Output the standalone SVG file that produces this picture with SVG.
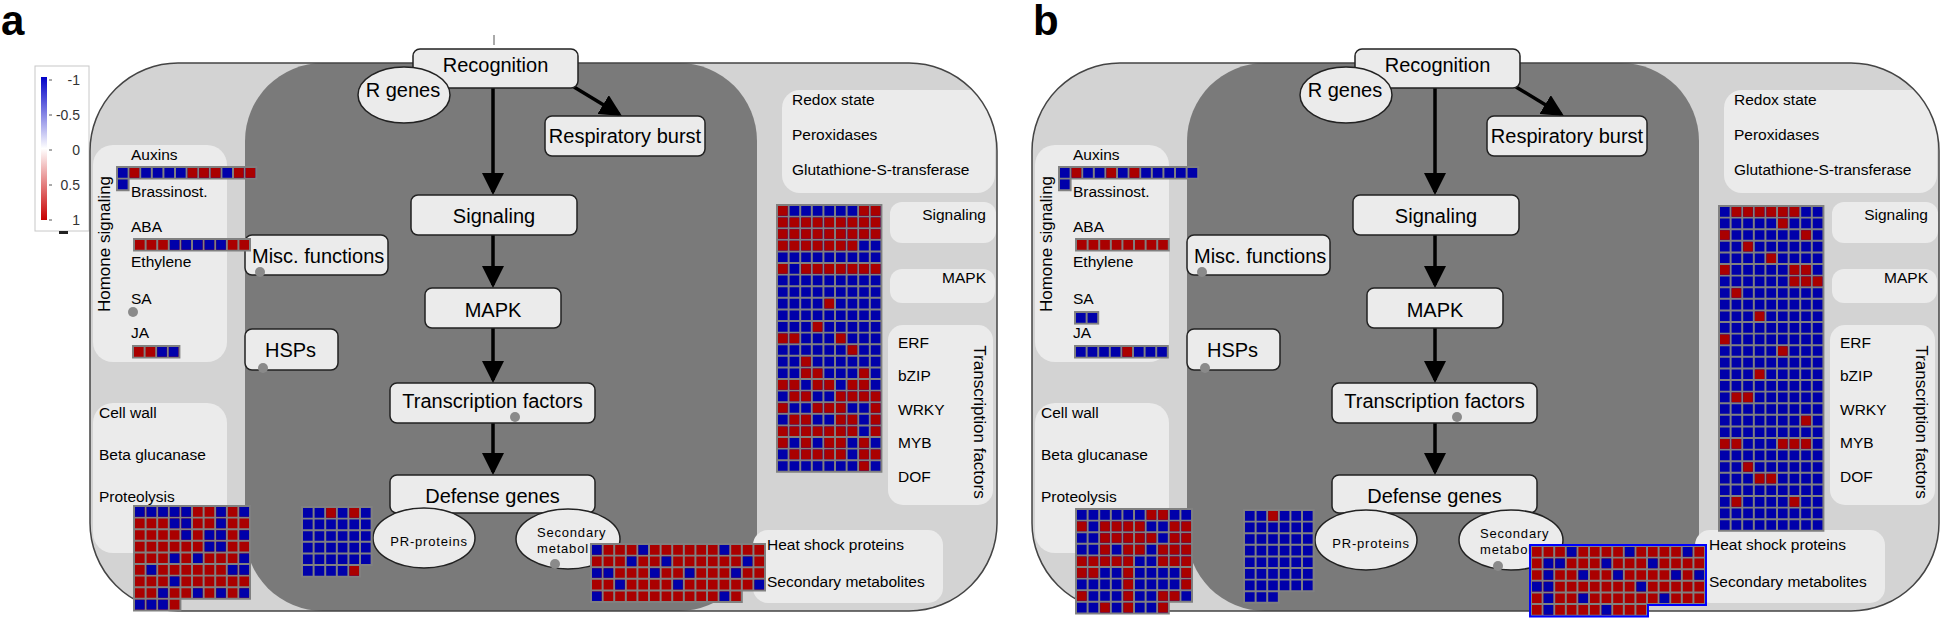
<svg xmlns="http://www.w3.org/2000/svg" width="1946" height="622" viewBox="0 0 1946 622">
<defs>
<style>
text{font-family:"Liberation Sans",Arial,sans-serif;fill:#000}
.cell{fill:#d3d3d3}
.outline{fill:none;stroke:#444;stroke-width:1.5}
.cyto{fill:#7a7a7a}
.sub{fill:#ebebeb}
.node rect,.node ellipse{fill:#ebebeb;stroke:#222;stroke-width:1.5}
.nt{font-size:20px}
.lab{font-size:15.5px}
.vt{font-size:17px}
.sm{font-size:13px;letter-spacing:.8px}
.dot{fill:#8a8a8a}
.fr{fill:#808080}
.fbl{fill:#808080;stroke:#0000ff;stroke-width:.17}
.lr{fill:none;stroke:#aa0000;stroke-width:.83;stroke-dasharray:.83 .17}
.lb{fill:none;stroke:#0000aa;stroke-width:.83;stroke-dasharray:.83 .17}
.arr{fill:none;stroke:#000;stroke-width:3.5;marker-end:url(#ah)}
.pl{font-size:42px;font-weight:bold}
.leg{font-size:14px;fill:#333}
</style>
<marker id="ah" markerUnits="userSpaceOnUse" markerWidth="22" markerHeight="22" viewBox="0 0 22 22" refX="19" refY="11" orient="auto"><path d="M0 0L22 11L0 22z" fill="#000"/></marker>
<linearGradient id="lg" x1="0" y1="0" x2="0" y2="1"><stop offset="0" stop-color="#0000c8"/><stop offset="0.5" stop-color="#ffffff"/><stop offset="1" stop-color="#c80000"/></linearGradient>
<clipPath id="cpo"><rect x="90" y="63" width="907" height="548" rx="88"/></clipPath>
</defs>

<text class="pl" x="1" y="35">a</text>
<text class="pl" x="1033" y="35">b</text>

<g id="legend">
<rect x="35" y="66" width="54" height="165" fill="#fff" stroke="#c8c8c8"/>
<rect x="41" y="77" width="6" height="143" fill="url(#lg)"/>
<path d="M49 80h3M49 115h3M49 150h3M49 185h3M49 220h3" stroke="#555" stroke-width="1"/>
<text class="leg" x="80" y="85" text-anchor="end">-1</text>
<text class="leg" x="80" y="120" text-anchor="end">-0.5</text>
<text class="leg" x="80" y="155" text-anchor="end">0</text>
<text class="leg" x="80" y="190" text-anchor="end">0.5</text>
<text class="leg" x="80" y="225" text-anchor="end">1</text>
<rect x="59" y="231" width="9" height="3" fill="#222"/>
</g>
<line x1="494" y1="35" x2="494" y2="45" stroke="#555" stroke-width="1"/>

<!-- ================= PANEL A ================= -->
<g id="panel-a">
<rect class="cell" x="90" y="63" width="907" height="548" rx="88"/>
<rect class="cyto" x="245" y="63" width="512" height="548" rx="78"/>
<g clip-path="url(#cpo)">
<rect class="sub" x="93" y="145" width="134" height="217" rx="20"/>
<rect class="sub" x="93" y="403" width="134" height="150" rx="20"/>
<rect class="sub" x="782" y="90" width="213" height="103" rx="18"/>
<rect class="sub" x="890" y="202" width="106" height="41" rx="12"/>
<rect class="sub" x="890" y="269" width="105" height="34" rx="12"/>
<rect class="sub" x="888" y="325" width="105" height="180" rx="15"/>
<rect class="sub" x="753" y="530" width="190" height="73" rx="15"/>
</g>
<rect class="outline" x="90" y="63" width="907" height="548" rx="88"/>

<g id="a-labels">
<text class="vt" transform="translate(110 244) rotate(-90)" text-anchor="middle">Homone signaling</text>
<text class="lab" x="131" y="160">Auxins</text>
<text class="lab" x="131" y="197">Brassinost.</text>
<text class="lab" x="131" y="232">ABA</text>
<text class="lab" x="131" y="267">Ethylene</text>
<text class="lab" x="131" y="304">SA</text>
<circle class="dot" cx="133" cy="312" r="5"/>
<text class="lab" x="131" y="338">JA</text>
<text class="lab" x="99" y="418">Cell wall</text>
<text class="lab" x="99" y="460">Beta glucanase</text>
<text class="lab" x="99" y="502">Proteolysis</text>
<text class="lab" x="792" y="105">Redox state</text>
<text class="lab" x="792" y="140">Peroxidases</text>
<text class="lab" x="792" y="175">Glutathione-S-transferase</text>
<text class="lab" x="986" y="220" text-anchor="end">Signaling</text>
<text class="lab" x="986" y="283" text-anchor="end">MAPK</text>
<text class="lab" x="898" y="348">ERF</text>
<text class="lab" x="898" y="381">bZIP</text>
<text class="lab" x="898" y="415">WRKY</text>
<text class="lab" x="898" y="448">MYB</text>
<text class="lab" x="898" y="482">DOF</text>
<text class="vt" transform="translate(974 422) rotate(90)" text-anchor="middle">Transcription factors</text>
<text class="lab" x="767" y="550">Heat shock proteins</text>
<text class="lab" x="767" y="587">Secondary metabolites</text>
</g>

<g id="a-connectors">
<path class="arr" d="M493 88V192"/>
<path class="arr" d="M493 235V285"/>
<path class="arr" d="M493 328V380"/>
<path class="arr" d="M493 423V472"/>
<path class="arr" d="M574 87L619.4 114.4"/>
</g>

<g id="a-recognition" class="node"><rect x="413" y="49" width="165" height="39" rx="7"/><text class="nt" x="495.5" y="72" text-anchor="middle">Recognition</text></g>
<g id="a-rgenes" class="node"><ellipse cx="404" cy="95" rx="46" ry="28"/><text class="nt" x="403" y="97" text-anchor="middle">R genes</text></g>
<g id="a-respiratory" class="node"><rect x="545" y="116" width="160" height="40" rx="7"/><text class="nt" x="625" y="143" text-anchor="middle">Respiratory burst</text></g>
<g id="a-signaling" class="node"><rect x="411" y="195" width="166" height="40" rx="7"/><text class="nt" x="494" y="223" text-anchor="middle">Signaling</text></g>
<g id="a-mapk" class="node"><rect x="425" y="288" width="136" height="40" rx="7"/><text class="nt" x="493" y="317" text-anchor="middle">MAPK</text></g>
<g id="a-tf" class="node"><rect x="390" y="383" width="205" height="40" rx="7"/><text class="nt" x="492.5" y="408" text-anchor="middle">Transcription factors</text><circle class="dot" cx="515" cy="417" r="5"/></g>
<g id="a-defense" class="node"><rect x="390" y="475" width="205" height="38" rx="7"/><text class="nt" x="492.5" y="503" text-anchor="middle">Defense genes</text></g>
<g id="a-pr" class="node"><ellipse cx="424" cy="538" rx="51" ry="30"/><text class="sm" x="429" y="546" text-anchor="middle">PR-proteins</text></g>
<g id="a-secmet" class="node"><ellipse cx="568" cy="539" rx="52" ry="30"/><text class="sm" x="537" y="537">Secondary</text><text class="sm" x="537" y="553">metabol</text><circle class="dot" cx="555" cy="564" r="5"/></g>
<g id="a-misc" class="node"><rect x="245" y="235" width="143" height="40" rx="7"/><text class="nt" x="252" y="263">Misc. functions</text><circle class="dot" cx="260" cy="272" r="5"/></g>
<g id="a-hsps" class="node"><rect x="245" y="329" width="93" height="41" rx="7"/><text class="nt" x="265" y="357">HSPs</text><circle class="dot" cx="263" cy="368" r="5"/></g>

<g id="a-grid-auxins" transform="translate(118 168) scale(11.6)">
<path class="fr" d="M-.17 -.17H12V1H1V2H-.17z"/>
<path class="lb" d="M0 .415h12M0 1.415h1"/>
<path class="lr" d="M1 .415h1M6 .415h3M10 .415h2"/>
</g>
<g id="a-grid-aba" transform="translate(135 240) scale(11.6)">
<path class="fr" d="M-.17 -.17H10V1H-.17z"/>
<path class="lr" d="M0 .415h10"/>
<path class="lb" d="M3 .415h5"/>
</g>
<g id="a-grid-ja" transform="translate(134 347) scale(11.6)">
<path class="fr" d="M-.17 -.17H4V1H-.17z"/>
<path class="lr" d="M0 .415h4"/>
<path class="lb" d="M2 .415h2"/>
</g>
<g id="a-grid-cellwall" transform="translate(135 507) scale(11.6)">
<path class="fr" d="M-.17 -.17H10V8H4V9H-.17z"/>
<path class="lr" d="M0 .415h10M0 1.415h10M0 2.415h10M0 3.415h10M0 4.415h10M0 5.415h10M0 6.415h10M0 7.415h10M0 8.415h4"/>
<path class="lb" d="M0 .415h5M7 .415h1M9 .415h1M3 1.415h2M7 1.415h1M4 2.415h1M6 2.415h2M9 2.415h1M6 3.415h2M3 4.415h1M5 4.415h1M9 4.415h1M1 5.415h1M8 5.415h2M3 6.415h1M2 7.415h1M5 7.415h1M7 7.415h1M9 7.415h1M0 8.415h3"/>
</g>
<g id="a-grid-pr" transform="translate(303 508) scale(11.6)">
<path class="fr" d="M-.17 -.17H6V5H5V6H-.17z"/>
<path class="lb" d="M0 .415h6M0 1.415h6M0 2.415h6M0 3.415h6M0 4.415h6M0 5.415h5"/>
<path class="lr" d="M2 .415h1M4 .415h1M4 5.415h1"/>
</g>
<g id="a-grid-secmet" transform="translate(592 545) scale(11.6)">
<path class="fr" d="M-.17 -.17H15V4H13V5H-.17z"/>
<path class="lr" d="M0 .415h15M0 1.415h15M0 2.415h15M0 3.415h15M0 4.415h13"/>
<path class="lb" d="M0 .415h1M4 .415h1M11 .415h1M3 1.415h1M6 1.415h1M13 1.415h1M0 2.415h2M5 2.415h1M8 2.415h1M12 2.415h1M2 3.415h1M7 3.415h1M14 3.415h1M0 4.415h1M11 4.415h1"/>
</g>
<g id="a-grid-right" transform="translate(778 206) scale(11.6)">
<path class="fr" d="M-.17 -.17H9V23H-.17z"/>
<path class="lb" d="M0 .415h9M0 1.415h9M0 2.415h9M0 3.415h9M0 4.415h9M0 5.415h9M0 6.415h9M0 7.415h9M0 8.415h9M0 9.415h9M0 10.415h9M0 11.415h9M0 12.415h9M0 13.415h9M0 14.415h9M0 15.415h9M0 16.415h9M0 17.415h9M0 18.415h9M0 19.415h9M0 20.415h9M0 21.415h9M0 22.415h9"/>
<path class="lr" d="M0 .415h1M7 .415h2M0 1.415h9M0 2.415h9M0 3.415h7M0 5.415h1M2 5.415h7M4 8.415h1M3 10.415h1M0 11.415h2M5 11.415h1M6 12.415h1M2 13.415h1M2 14.415h2M7 14.415h1M0 15.415h2M3 15.415h2M6 15.415h2M1 16.415h2M5 16.415h4M0 17.415h1M3 17.415h3M8 17.415h1M1 18.415h2M5 18.415h2M8 18.415h1M0 19.415h7M8 19.415h1M0 20.415h1M2 20.415h1M4 20.415h2M7 20.415h1M1 21.415h5M7 21.415h2M7 22.415h1"/>
</g>
</g>

<!-- ================= PANEL B ================= -->
<g id="panel-b" transform="translate(942 0)">
<rect class="cell" x="90" y="63" width="907" height="548" rx="88"/>
<rect class="cyto" x="245" y="63" width="512" height="548" rx="78"/>
<g clip-path="url(#cpo)">
<rect class="sub" x="93" y="145" width="134" height="217" rx="20"/>
<rect class="sub" x="93" y="403" width="134" height="150" rx="20"/>
<rect class="sub" x="782" y="90" width="213" height="103" rx="18"/>
<rect class="sub" x="890" y="202" width="106" height="41" rx="12"/>
<rect class="sub" x="890" y="269" width="105" height="34" rx="12"/>
<rect class="sub" x="888" y="325" width="105" height="180" rx="15"/>
<rect class="sub" x="753" y="530" width="190" height="73" rx="15"/>
</g>
<rect class="outline" x="90" y="63" width="907" height="548" rx="88"/>

<g id="b-labels">
<text class="vt" transform="translate(110 244) rotate(-90)" text-anchor="middle">Homone signaling</text>
<text class="lab" x="131" y="160">Auxins</text>
<text class="lab" x="131" y="197">Brassinost.</text>
<text class="lab" x="131" y="232">ABA</text>
<text class="lab" x="131" y="267">Ethylene</text>
<text class="lab" x="131" y="304">SA</text>
<text class="lab" x="131" y="338">JA</text>
<text class="lab" x="99" y="418">Cell wall</text>
<text class="lab" x="99" y="460">Beta glucanase</text>
<text class="lab" x="99" y="502">Proteolysis</text>
<text class="lab" x="792" y="105">Redox state</text>
<text class="lab" x="792" y="140">Peroxidases</text>
<text class="lab" x="792" y="175">Glutathione-S-transferase</text>
<text class="lab" x="986" y="220" text-anchor="end">Signaling</text>
<text class="lab" x="986" y="283" text-anchor="end">MAPK</text>
<text class="lab" x="898" y="348">ERF</text>
<text class="lab" x="898" y="381">bZIP</text>
<text class="lab" x="898" y="415">WRKY</text>
<text class="lab" x="898" y="448">MYB</text>
<text class="lab" x="898" y="482">DOF</text>
<text class="vt" transform="translate(974 422) rotate(90)" text-anchor="middle">Transcription factors</text>
<text class="lab" x="767" y="550">Heat shock proteins</text>
<text class="lab" x="767" y="587">Secondary metabolites</text>
</g>

<g id="b-connectors">
<path class="arr" d="M493 88V192"/>
<path class="arr" d="M493 235V285"/>
<path class="arr" d="M493 328V380"/>
<path class="arr" d="M493 423V472"/>
<path class="arr" d="M574 87L619.4 114.4"/>
</g>

<g id="b-recognition" class="node"><rect x="413" y="49" width="165" height="39" rx="7"/><text class="nt" x="495.5" y="72" text-anchor="middle">Recognition</text></g>
<g id="b-rgenes" class="node"><ellipse cx="404" cy="95" rx="46" ry="28"/><text class="nt" x="403" y="97" text-anchor="middle">R genes</text></g>
<g id="b-respiratory" class="node"><rect x="545" y="116" width="160" height="40" rx="7"/><text class="nt" x="625" y="143" text-anchor="middle">Respiratory burst</text></g>
<g id="b-signaling" class="node"><rect x="411" y="195" width="166" height="40" rx="7"/><text class="nt" x="494" y="223" text-anchor="middle">Signaling</text></g>
<g id="b-mapk" class="node"><rect x="425" y="288" width="136" height="40" rx="7"/><text class="nt" x="493" y="317" text-anchor="middle">MAPK</text></g>
<g id="b-tf" class="node"><rect x="390" y="383" width="205" height="40" rx="7"/><text class="nt" x="492.5" y="408" text-anchor="middle">Transcription factors</text><circle class="dot" cx="515" cy="417" r="5"/></g>
<g id="b-defense" class="node"><rect x="390" y="475" width="205" height="38" rx="7"/><text class="nt" x="492.5" y="503" text-anchor="middle">Defense genes</text></g>
<g id="b-pr" class="node"><ellipse cx="424" cy="540" rx="51" ry="30"/><text class="sm" x="429" y="548" text-anchor="middle">PR-proteins</text></g>
<g id="b-secmet" class="node"><ellipse cx="569" cy="540" rx="52" ry="30"/><text class="sm" x="538" y="538">Secondary</text><text class="sm" x="538" y="554">metabol</text><circle class="dot" cx="556" cy="566" r="5"/></g>
<g id="b-misc" class="node"><rect x="245" y="235" width="143" height="40" rx="7"/><text class="nt" x="252" y="263">Misc. functions</text><circle class="dot" cx="260" cy="272" r="5"/></g>
<g id="b-hsps" class="node"><rect x="245" y="329" width="93" height="41" rx="7"/><text class="nt" x="265" y="357">HSPs</text><circle class="dot" cx="263" cy="368" r="5"/></g>

<g id="b-grid-auxins" transform="translate(118 168) scale(11.6)">
<path class="fr" d="M-.17 -.17H12V1H1V2H-.17z"/>
<path class="lb" d="M0 .415h12M0 1.415h1"/>
<path class="lr" d="M1 .415h1M4 .415h1M6 .415h1"/>
</g>
<g id="b-grid-aba" transform="translate(135 240) scale(11.6)">
<path class="fr" d="M-.17 -.17H8V1H-.17z"/>
<path class="lr" d="M0 .415h8"/>
</g>
<g id="b-grid-sa" transform="translate(134 313) scale(11.6)">
<path class="fr" d="M-.17 -.17H2V1H-.17z"/>
<path class="lb" d="M0 .415h2"/>
</g>
<g id="b-grid-ja" transform="translate(134 347) scale(11.6)">
<path class="fr" d="M-.17 -.17H8V1H-.17z"/>
<path class="lb" d="M0 .415h8"/>
<path class="lr" d="M4 .415h1"/>
</g>
<g id="b-grid-cellwall" transform="translate(135 510) scale(11.6)">
<path class="fr" d="M-.17 -.17H10V8H8V9H-.17z"/>
<path class="lb" d="M0 .415h10M0 1.415h10M0 2.415h10M0 3.415h10M0 4.415h10M0 5.415h10M0 6.415h10M0 7.415h10M0 8.415h8"/>
<path class="lr" d="M6 .415h2M0 1.415h1M2 1.415h4M8 1.415h2M2 2.415h5M8 2.415h2M2 3.415h1M4 3.415h2M7 3.415h3M0 4.415h5M7 4.415h3M0 5.415h2M4 5.415h1M9 5.415h1M4 6.415h1M9 6.415h1M0 7.415h1M4 7.415h1M7 7.415h2M2 8.415h1M4 8.415h1M7 8.415h1"/>
</g>
<g id="b-grid-pr" transform="translate(303 511) scale(11.6)">
<path class="fr" d="M-.17 -.17H6V7H3V8H-.17z"/>
<path class="lb" d="M0 .415h6M0 1.415h6M0 2.415h6M0 3.415h6M0 4.415h6M0 5.415h6M0 6.415h6M0 7.415h3"/>
<path class="lr" d="M2 .415h1"/>
</g>
<g id="b-grid-secmet" transform="translate(590 547) scale(11.6)">
<path class="fbl" d="M-.17 -.17H15V5H10V6H-.17z"/>
<path class="lr" d="M0 .415h15M0 1.415h15M0 2.415h15M0 3.415h15M0 4.415h15M0 5.415h10"/>
<path class="lb" d="M3 .415h1M8 .415h1M13 .415h1M1 1.415h2M6 1.415h1M10 1.415h1M1 2.415h1M4 2.415h1M7 2.415h1M12 2.415h1M14 2.415h1M0 3.415h2M9 3.415h1M1 4.415h1M4 4.415h1M11 4.415h1M1 5.415h1M6 5.415h1"/>
</g>
<g id="b-grid-right" transform="translate(778 207) scale(11.6)">
<path class="fr" d="M-.17 -.17H9V28H-.17z"/>
<path class="lb" d="M0 .415h9M0 1.415h9M0 2.415h9M0 3.415h9M0 4.415h9M0 5.415h9M0 6.415h9M0 7.415h9M0 8.415h9M0 9.415h9M0 10.415h9M0 11.415h9M0 12.415h9M0 13.415h9M0 14.415h9M0 15.415h9M0 16.415h9M0 17.415h9M0 18.415h9M0 19.415h9M0 20.415h9M0 21.415h9M0 22.415h9M0 23.415h9M0 24.415h9M0 25.415h9M0 26.415h9M0 27.415h9"/>
<path class="lr" d="M1 .415h6M5 1.415h1M0 2.415h1M7 2.415h1M2 3.415h1M4 4.415h1M0 5.415h1M6 5.415h2M6 6.415h3M1 7.415h1M3 9.415h1M0 11.415h1M5 12.415h1M3 14.415h1M1 16.415h2M7 18.415h1M0 20.415h2M5 20.415h3M2 22.415h1M3 23.415h2M1 25.415h1M6 25.415h1"/>
</g>
</g>
</svg>
